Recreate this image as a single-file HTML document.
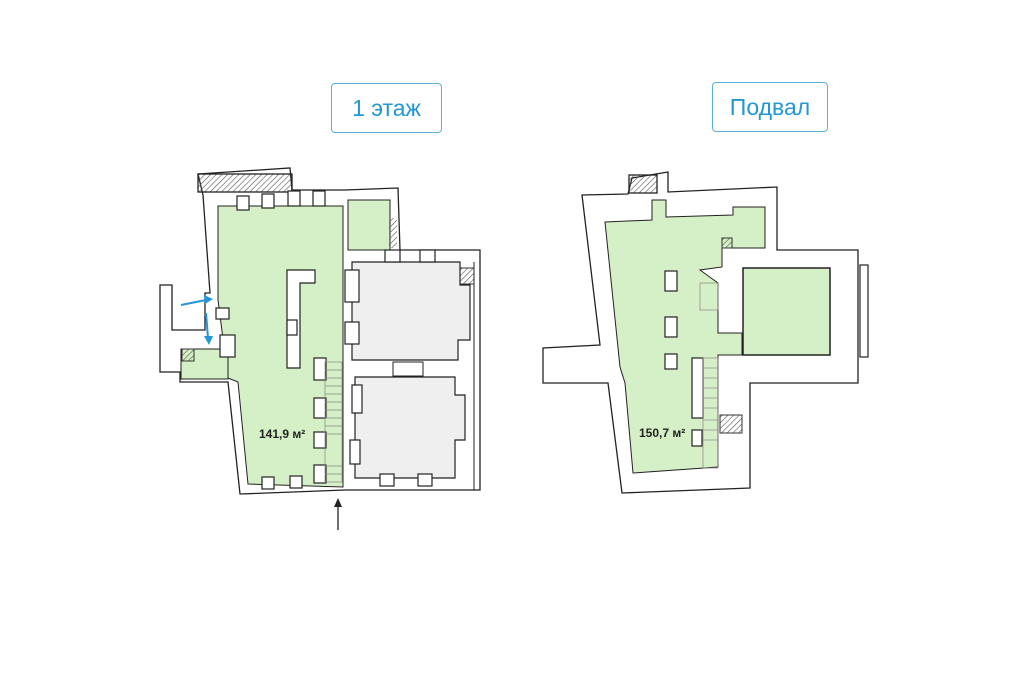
<!DOCTYPE html>
<html><head><meta charset="utf-8"><style>
html,body{margin:0;padding:0;background:#fff;width:1024px;height:682px;overflow:hidden}
.lbl{position:absolute;border:1.5px solid #5ab0dc;border-radius:4px;color:#2396d6;font-family:"Liberation Sans","Noto Sans CJK JP",sans-serif;font-size:23px;display:flex;align-items:center;justify-content:center;box-sizing:border-box}
svg{position:absolute;left:0;top:0}
</style></head><body>
<div class="lbl" style="left:331px;top:83px;width:111px;height:50px">1 этаж</div>
<div class="lbl" style="left:712px;top:82px;width:116px;height:50px">Подвал</div>
<svg width="1024" height="682" viewBox="0 0 1024 682">
<defs><pattern id="h" width="4" height="4" patternUnits="userSpaceOnUse" patternTransform="rotate(45)"><line x1="0" y1="0" x2="0" y2="4" stroke="#555" stroke-width="1.2"/></pattern></defs>
<g stroke="#222" stroke-width="1.3" fill="#fff">
<polygon points="198,174 290,168 292,190 345,190 398,188 400,250 480,250 480,490 345,490 240,494 228,382 180,382 180,372 160,372 160,285 172,285 172,330 205,330 205,293 210,293 203,195"/>
<rect x="198" y="174" width="94" height="18" fill="url(#h)"/>
</g>
<polygon points="218,206 343,206 343,487 248,484 238,382 228,378 218,300" fill="#d5efc6" stroke="#222" stroke-width="1"/>
<rect x="348" y="200" width="42" height="50" fill="#d5efc6" stroke="#222" stroke-width="1"/>
<rect x="181" y="349" width="47" height="30" fill="#d5efc6" stroke="#222" stroke-width="1"/>
<rect x="182" y="349" width="12" height="12" fill="url(#h)" stroke="#333" stroke-width="1"/>
<rect x="389" y="218" width="8" height="30" fill="url(#h)"/>
<rect x="460" y="268" width="14" height="16" fill="url(#h)" stroke="#333" stroke-width="1"/>
<polygon points="352,262 460,262 460,285 470,285 470,340 458,340 458,360 352,360" fill="#efefef" stroke="#222" stroke-width="1.2"/>
<polygon points="355,377 455,377 455,395 465,395 465,440 455,440 455,478 355,478" fill="#efefef" stroke="#222" stroke-width="1.2"/>
<rect x="393" y="362" width="30" height="14" fill="#fff" stroke="#222"/>
<line x1="474" y1="262" x2="474" y2="490" stroke="#222" stroke-width="1"/>
<g fill="#fff" stroke="#222" stroke-width="1.2">
<rect x="237" y="196" width="12" height="14"/><rect x="262" y="194" width="12" height="14"/><rect x="288" y="191" width="12" height="15"/><rect x="313" y="191" width="12" height="15"/>
<polygon points="287,270 315,270 315,283 300,283 300,368 287,368"/>
<rect x="287" y="320" width="10" height="15"/>
<rect x="314" y="358" width="12" height="22"/><rect x="314" y="398" width="12" height="20"/><rect x="314" y="432" width="12" height="16"/><rect x="314" y="465" width="12" height="18"/>
<rect x="216" y="308" width="13" height="11"/><rect x="220" y="335" width="15" height="22"/>
<rect x="262" y="477" width="12" height="12"/><rect x="290" y="476" width="12" height="12"/>
<rect x="345" y="270" width="14" height="32"/><rect x="345" y="322" width="14" height="22"/>
<rect x="385" y="250" width="15" height="12"/><rect x="420" y="250" width="15" height="12"/>
<rect x="380" y="474" width="14" height="12"/><rect x="418" y="474" width="14" height="12"/>
<rect x="352" y="385" width="10" height="28"/><rect x="350" y="440" width="10" height="24"/>
</g>
<g stroke="#888" stroke-width="0.7">
<rect x="325" y="362" width="17" height="120" fill="none"/>
<line x1="325" y1="370" x2="342" y2="370"/><line x1="325" y1="378" x2="342" y2="378"/><line x1="325" y1="386" x2="342" y2="386"/><line x1="325" y1="394" x2="342" y2="394"/><line x1="325" y1="402" x2="342" y2="402"/><line x1="325" y1="410" x2="342" y2="410"/><line x1="325" y1="418" x2="342" y2="418"/><line x1="325" y1="426" x2="342" y2="426"/><line x1="325" y1="434" x2="342" y2="434"/><line x1="325" y1="466" x2="342" y2="466"/><line x1="325" y1="474" x2="342" y2="474"/>
</g>
<text x="259" y="438" font-family="Liberation Sans,sans-serif" font-size="12" font-weight="bold" fill="#222">141,9 м²</text>
<g stroke="#2596d8" stroke-width="2" fill="#2596d8">
<line x1="181" y1="305" x2="206" y2="300"/><polygon points="213,299 204,295 205,304" stroke="none"/>
<line x1="206" y1="313" x2="208" y2="338"/><polygon points="209,345 204,336 213,336" stroke="none"/>
</g>
<line x1="338" y1="530" x2="338" y2="505" stroke="#222" stroke-width="1.3"/>
<polygon points="338,498 334,507 342,507" fill="#222"/>
<g stroke="#222" stroke-width="1.3" fill="#fff">
<polygon points="582,195 628,194 632,178 668,172 668,192 777,187 777,250 858,250 858,383 750,383 750,488 622,493 608,383 543,383 543,348 600,345"/>
<rect x="629" y="175" width="28" height="18" fill="url(#h)"/>
</g>
<polygon points="605,222 652,220 652,200 666,200 666,217 733,215 733,207 765,207 765,248 722,248 722,267 700,270 718,283 718,333 742,333 742,355 718,355 718,467 633,473 625,383 620,367" fill="#d5efc6" stroke="#222" stroke-width="1"/>
<rect x="743" y="268" width="87" height="87" fill="#d5efc6" stroke="#222" stroke-width="1.5"/>
<rect x="722" y="238" width="10" height="10" fill="url(#h)" stroke="#333"/>
<rect x="720" y="415" width="22" height="18" fill="url(#h)" stroke="#333"/>
<g fill="#fff" stroke="#222" stroke-width="1.2">
<rect x="665" y="271" width="12" height="20"/><rect x="665" y="317" width="12" height="20"/><rect x="665" y="354" width="12" height="15"/>
<rect x="692" y="358" width="11" height="60"/><rect x="692" y="430" width="10" height="16"/>
<rect x="860" y="265" width="8" height="92"/>
</g>
<g stroke="#888" stroke-width="0.7" fill="none">
<rect x="703" y="358" width="15" height="110"/>
<line x1="703" y1="368" x2="718" y2="368"/><line x1="703" y1="378" x2="718" y2="378"/><line x1="703" y1="388" x2="718" y2="388"/><line x1="703" y1="398" x2="718" y2="398"/><line x1="703" y1="408" x2="718" y2="408"/><line x1="703" y1="420" x2="718" y2="420"/><line x1="703" y1="430" x2="718" y2="430"/><line x1="703" y1="440" x2="718" y2="440"/>
<rect x="700" y="283" width="18" height="27"/>
</g>
<text x="639" y="437" font-family="Liberation Sans,sans-serif" font-size="12" font-weight="bold" fill="#222">150,7 м²</text>
</svg>
</body></html>
